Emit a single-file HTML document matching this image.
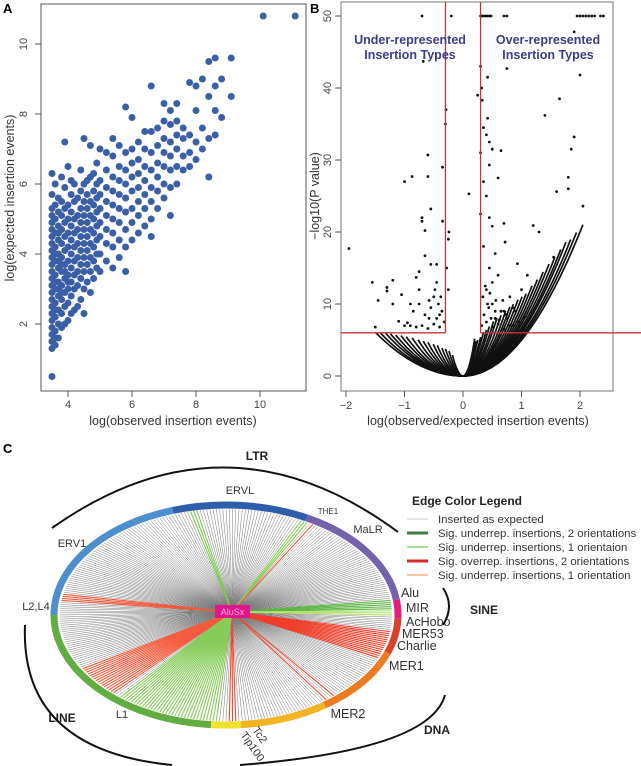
<!DOCTYPE html>
<html><head><meta charset="utf-8"><style>
body{margin:0;background:#fff}
svg{display:block;font-family:"Liberation Sans",sans-serif}
</style></head><body>
<svg id="fig" width="641" height="766" viewBox="0 0 641 766">
<text x="3" y="13" font-size="13" font-weight="bold">A</text>
<text x="310" y="13" font-size="13" font-weight="bold">B</text>
<text x="3" y="453" font-size="13" font-weight="bold">C</text>
<g id="pa"></g>
<g id="pb"></g>
<g id="pc"></g>
</svg>
<script>
// ---------- Panel A data ----------
const colObs = [3.5,3.6,3.7,3.8,3.9,4.0,4.1,4.2,4.3,4.4,4.5,4.6,4.7,4.8,4.9,5.0,5.2,5.4,5.6,5.8,6.0,6.2,6.4,6.6,6.8,7.0,7.2,7.4,7.6,7.8,8.0,8.2,8.4,8.6,8.8,9.1,10.1,11.1];
const colExp = [
[0.5,1.3,1.5,1.7,1.9,2.1,2.3,2.5,2.7,2.9,3.1,3.3,3.5,3.7,3.9,4.1,4.3,4.5,4.7,4.9,5.1,5.3,5.7,6.3],
[1.4,1.8,2.2,2.6,3.0,3.4,3.8,4.2,4.6,5.0,5.4,6.0,1.6,2.4,3.2,4.0],
[1.6,2.0,2.4,2.8,3.2,3.6,4.0,4.4,4.8,5.2,5.6,3.0,3.8,4.6],
[1.9,2.3,2.7,3.1,3.5,3.9,4.3,4.7,5.1,5.5,6.2,2.9,3.7],
[2.0,2.5,2.9,3.3,3.7,4.1,4.5,4.9,5.3,5.9,7.2,3.5],
[2.1,2.6,3.0,3.4,3.8,4.2,4.6,5.0,5.4,6.5,3.2],
[2.3,2.8,3.2,3.6,4.0,4.4,4.8,5.2,5.7,6.1],
[2.4,3.0,3.4,3.8,4.2,4.6,5.0,5.5,6.0],
[2.5,3.1,3.5,3.9,4.3,4.7,5.1,5.6],
[2.7,3.3,3.7,4.1,4.5,4.9,5.3,5.8,6.4],
[2.3,3.0,3.5,3.9,4.3,4.7,5.1,5.5,6.0,7.3],
[3.2,3.7,4.1,4.5,4.9,5.3,5.7,6.1],
[2.9,3.5,3.9,4.3,4.7,5.1,5.5,6.2,7.1],
[3.3,3.8,4.2,4.6,5.0,5.4,5.8,6.3],
[3.6,4.0,4.4,4.8,5.2,5.6,6.0,6.6],
[3.5,4.0,4.5,4.9,5.3,5.7,6.1,7.0],
[3.8,4.3,4.7,5.1,5.5,5.9,6.4,6.9],
[3.6,4.2,4.6,5.0,5.4,5.8,6.2,6.8,7.3],
[3.9,4.4,4.9,5.3,5.7,6.1,6.5,7.1],
[3.5,4.2,4.7,5.2,5.6,6.0,6.4,6.9,8.2],
[4.4,4.9,5.3,5.8,6.2,6.6,7.0,7.9],
[4.6,5.1,5.5,5.9,6.3,6.7,7.2],
[4.8,5.3,5.7,6.1,6.5,7.0,7.5],
[4.5,5.0,5.5,5.9,6.4,6.9,7.5,8.8],
[5.3,5.8,6.2,6.6,7.1,7.6],
[5.6,6.0,6.5,6.9,7.3,7.8,8.3],
[5.1,5.9,6.4,6.8,7.2,7.7,8.1],
[6.0,6.5,7.0,7.4,7.8,8.3],
[6.4,6.8,7.3,7.6],
[6.5,6.9,7.4,8.9],
[6.7,7.2,8.1,8.8],
[7.0,7.6,9.0],
[6.2,7.3,8.5,9.5],
[7.4,8.1,8.8,9.6],
[7.9,9.0],
[8.5,9.6],
[10.8],
[10.8]];
const aXTicks = [4,6,8,10];
const aYTicks = [2,4,6,8,10];

// ---------- Panel B data ----------
const arcRight = [5,5.3,5.6,6,6.3,6.7,7.2,7.7,8.3,9,9.8,10.8,12,13.5,15,17,20,24,28,34,40,50,60,80,100,130];
const arcRightEnd = [2.05,1.94,1.84,1.76,1.67,1.57,1.47,1.37,1.27,1.18,1.08,1.01,0.94,0.86,0.80,0.73,0.65,0.58,0.52,0.45,0.40,0.35,0.30,0.25,0.22,0.20];
const arcLeft = [2.7,3,3.4,3.8,4.3,5,5.8,7,8.5,10.5,13,17,22,30,42,60,90];
const arcLeftEnd = [1.50,1.41,1.32,1.24,1.15,1.06,0.97,0.87,0.77,0.68,0.60,0.51,0.44,0.36,0.30,0.24,0.18];
const bX = [-1.95,-1.55,-1.5,-1.45,-1.3,-1.3,-1.2,-1.2,-1.05,-1,-1,-0.9,-0.9,-0.87,-0.8,-0.75,-0.75,-0.7,-0.7,-0.68,-0.65,-0.65,-0.6,-0.6,-0.58,-0.55,-0.55,-0.5,-0.45,-0.45,-0.4,-0.35,-0.35,-0.3,-0.29,-0.28,-0.25,-0.24,-0.25,-0.7,-0.2,
0.1,0.25,0.3,0.32,0.33,0.35,0.4,0.42,0.42,0.45,0.45,0.5,0.3,0.35,0.4,0.45,0.5,0.55,0.35,0.3,0.6,0.65,0.7,0.72,0.75,0.93,1.2,1.3,1.4,1.65,1.85,1.9,1.9,2.0,2.05,1.6,1.8,1.8,1.55,1.0,1.1,0.8,0.9,0.6,0.5,0.55,0.7,0.4,0.45,0.85,
0.3,0.33,0.36,0.39,0.42,0.45,0.48,0.7,0.75,1.95,2.0,2.05,2.1,2.15,2.2,2.25,2.35,2.4,
0.32,0.36,0.4,0.44,0.48,0.52,0.56,0.6,0.65,0.7,0.75,0.8,0.34,0.38,0.42,0.46,0.5,0.55,0.62,0.68,0.74,0.85,0.95,1.05,
-0.32,-0.36,-0.4,-0.45,-0.5,-0.55,-0.6,-0.65,-0.7,-0.8,-0.85,-0.95,-0.38,-0.42,-0.48,-0.58,-0.75,-1.1];
const bY = [17.7,13,6.8,10.5,12.3,11.8,13.3,10,11.3,27,7,7,10,27.7,13.7,12,14.5,21.5,22,43.7,16.7,20.2,30.7,27.7,10.5,23.2,15.5,11,15.5,13,8.5,21.5,29,35,37,15,19,20,12,50,50,
25.3,39,43,40,38.3,34.5,33.5,35.8,41.5,32.5,29.3,31.5,31,27,25,22,20.8,17,18,22.5,27.5,31.3,21.2,18.6,42.7,15.6,20.9,20,36.2,38.5,31.5,33.2,47.8,41.8,23.6,25.6,27.6,26,16.5,12,14,11,9,14,10,8,9,12,15,7,
50,50,50,50,50,50,50,50,50,50,50,50,50,50,50,50,50,50,
7,8.5,7.5,9.5,8,6.8,10.5,7.2,9,6.5,8,7,11,12.5,10,11.5,13,9,7.8,10.5,8.5,9.5,7.5,8.2,
7.5,9,6.8,8,7.2,9.5,6.6,8.5,7,6.8,9,7.4,11,10,12,8,10,7.6];
const bXTicks = [-2,-1,0,1,2];
const bYTicks = [0,10,20,30,40,50];
const bCutX = [-0.3,0.3];
const bCutY = 6;

// ---------- Panel C data ----------
const famNames = ['ERV1','ERVL','MaLR','Alu','DNA-small','MER1','MER2','Tc2','L1'];
const famStart = [180,108,62,8,-2,-20,-55,-85,-95];
const famEnd = [108,62,8,-2,-20,-55,-85,-95,-180];
const famColor = ['#4d8fcc','#2f5eab','#7562ad','#e0207a','#d9412a','#ee7a22','#f2b324','#f0e030','#62ad42'];
const fanStart = [168,171.5,100,58,60.5,0,3,-8,-49,-52,-86,-93,-132];
const fanEnd = [173,172.5,103,58.8,64,2.5,8,-24,-50.5,-53,-89,-130,-150];
const fanColor = ['#f25a3a','#6cc04a','#7acb50','#f25a3a','#8ccc55','#b5e070','#5fb548','#ef3e2a','#ef4a30','#ef4a30','#ef4a30','#86cc5a','#f45a3c'];
const legendLabels = ['Inserted as expected','Sig. underrep. insertions, 2 orientations','Sig. underrep. insertions, 1 orientaion','Sig. overrep. insertions, 2 orientations','Sig. underrep. insertions, 1 orientation'];
const legendColors = ['#cfcfcf','#3f7a45','#7cc060','#d8282a','#f4a070'];
const legendWidths = [1,3,1.2,3,1.2];

const NS='http://www.w3.org/2000/svg';
function mk(tag,attrs,parent,txt){const e=document.createElementNS(NS,tag);for(const k in attrs)e.setAttribute(k,attrs[k]);if(txt!==undefined)e.textContent=txt;parent.appendChild(e);return e;}

// ---- Panel A ----
(function(){
const g=document.getElementById('pa');
const L=41,R=306,T=4,B=391;
const sx=v=>68+32*(v-4), sy=v=>394-35*v;
const box=mk('rect',{x:L,y:T,width:R-L,height:B-T,fill:'none',stroke:'#555','stroke-width':1},g);

aXTicks.forEach(t=>{const x=sx(t);
 const l=mk('line',{x1:x,y1:B,x2:x,y2:B+6,stroke:'#555'},g);
 const tx=mk('text',{x:x,y:B+17,'font-size':11,fill:'#444','text-anchor':'middle'},g,String(t));});
aYTicks.forEach(t=>{const y=sy(t);
 const l=mk('line',{x1:L-6,y1:y,x2:L,y2:y,stroke:'#555'},g);
 const tx=mk('text',{x:27,y:y,'font-size':11,fill:'#444','text-anchor':'middle',transform:`rotate(-90 27 ${y})`},g,String(t));});
const xt=mk('text',{x:173,y:425,'font-size':12.5,fill:'#333','text-anchor':'middle'},g,'log(observed insertion events)');
const yt=mk('text',{x:14,y:198,'font-size':12.5,fill:'#333','text-anchor':'middle',transform:'rotate(-90 14 198)'},g,'log(expected insertion events)');
colObs.forEach((xv,i)=>colExp[i].forEach(yv=>{
 const c=mk('circle',{cx:sx(xv),cy:sy(yv),r:3.5,fill:'#3a5fa6'},g);
 
 }));
})();

// ---- Panel B ----
(function(){
const g=document.getElementById('pb');
const L=341,R=613,T=2,B=391;
const sx=v=>463+58.5*v, sy=v=>376-7.2*v;
const box=mk('rect',{x:L,y:T,width:R-L,height:B-T,fill:'none',stroke:'#777','stroke-width':1},g);

bXTicks.forEach(t=>{const x=sx(t);
 const l=mk('line',{x1:x,y1:B,x2:x,y2:B+6,stroke:'#555'},g);
 const tx=mk('text',{x:x,y:B+18,'font-size':11,fill:'#444','text-anchor':'middle'},g,t<0?'\u2212'+(-t):String(t));});
bYTicks.forEach(t=>{const y=sy(t);
 const l=mk('line',{x1:L-6,y1:y,x2:L,y2:y,stroke:'#555'},g);
 const tx=mk('text',{x:331,y:y,'font-size':11,fill:'#444','text-anchor':'middle',transform:`rotate(-90 331 ${y})`},g,String(t));});
const xt=mk('text',{x:478,y:425,'font-size':12.5,fill:'#333','text-anchor':'middle'},g,'log(observed/expected insertion events)');
const yt=mk('text',{x:319,y:196,'font-size':12.5,fill:'#333','text-anchor':'middle',transform:'rotate(-90 319 196)'},g,'\u2212log10(P value)');
function arc(c,end,side){
 let d='';
 for(let k=0;k<=60;k++){const xv=side*end*k/60;const yv=c*xv*xv;d+=(k?'L':'M')+sx(xv).toFixed(1)+','+sy(yv).toFixed(1);}
 const p=mk('path',{d:d,fill:'none',stroke:'#111','stroke-width':1.7},g);
 
 
}
arcRight.forEach((c,i)=>arc(c,arcRightEnd[i],1));
arcLeft.forEach((c,i)=>arc(c,arcLeftEnd[i],-1));
bX.forEach((xv,i)=>{
 const p=mk('circle',{cx:sx(xv),cy:sy(bY[i]),r:1.4,fill:'#111'},g);
 
 });
bCutX.forEach(v=>{const l=mk('line',{x1:sx(v),y1:T,x2:sx(v),y2:sy(bCutY),stroke:'#c8333a','stroke-width':1.3},g);
 });
const h1=mk('line',{x1:L,y1:sy(bCutY),x2:sx(bCutX[0]),y2:sy(bCutY),stroke:'#c8333a','stroke-width':1.3},g);
const h2=mk('line',{x1:sx(bCutX[1]),y1:sy(bCutY),x2:R+28,y2:sy(bCutY),stroke:'#c8333a','stroke-width':1.3},g);
[['Under-represented',410,44],['Insertion Types',410,59],['Over-represented',548,44],['Insertion Types',548,59]].forEach((a,i)=>{
 const t=mk('text',{x:a[1],y:a[2],'font-size':12.5,'font-weight':'bold',fill:'#3c3c8c','text-anchor':'middle'},g,a[0]);
 });
})();

// ---- Panel C ----
(function(){
const g=document.getElementById('pc');
const cx=226,cy=615,rx=172,ry=110,hx=232,hy=612;
const pt=(a,s)=>[cx+rx*s*Math.cos(a*Math.PI/180),cy-ry*s*Math.sin(a*Math.PI/180)];
function colorAt(a){for(let i=0;i<fanStart.length;i++){const lo=Math.min(fanStart[i],fanEnd[i]),hi=Math.max(fanStart[i],fanEnd[i]);if(a>=lo&&a<=hi)return fanColor[i];}return null;}
const N=320;
const colored=[];
for(let k=0;k<N;k++){const a=180-360*k/N;const p=pt(a,0.965);const c=colorAt(a);
 if(c){colored.push([p,c]);continue;}
 const l=mk('line',{x1:hx,y1:hy,x2:p[0],y2:p[1],stroke:'#7a7a7a','stroke-width':0.5},g);
 
 }
colored.forEach(([p,c])=>{const l=mk('line',{x1:hx,y1:hy,x2:p[0],y2:p[1],stroke:c,'stroke-width':1.1},g);
 
 });
famNames.forEach((n,i)=>{
 const a0=famStart[i],a1=famEnd[i];const p0=pt(a0,1),p1=pt(a1,1);
 const large=Math.abs(a0-a1)>180?1:0;
 const s=mk('path',{d:`M${p0[0]},${p0[1]} A${rx},${ry} 0 ${large} 1 ${p1[0]},${p1[1]}`,fill:'none',stroke:famColor[i],'stroke-width':7},g);
 
 });
const hub=mk('rect',{x:215,y:605,width:35,height:13,fill:'#e0168a'},g);
const ht=mk('text',{x:232.5,y:615,'font-size':9,fill:'#f7a8d8','text-anchor':'middle'},g,'AluSx');
const labs=[['ERVL',240,494,11,'middle'],['THE1',328,514,8,'middle'],['MaLR',368,533,11,'middle'],['ERV1',72,547,11,'middle'],['L2,L4',36,610,11,'middle'],['Alu',401,597,12.5,'start'],['MIR',406,612,12.5,'start'],['AcHobo',406,626,12.5,'start'],['MER53',402,638,12.5,'start'],['Charlie',397,650,12.5,'start'],['MER1',389,670,12.5,'start'],['L1',122,718,11,'middle'],['MER2',348,718,12.5,'middle']];
labs.forEach(a=>{const t=mk('text',{x:a[1],y:a[2],'font-size':a[3],fill:'#333','text-anchor':a[4]},g,a[0]);
 });
const tc=mk('text',{x:252,y:730,'font-size':11,fill:'#333',transform:'rotate(55 252 730)'},g,'Tc2');
const tp=mk('text',{x:240,y:735,'font-size':11,fill:'#333',transform:'rotate(55 240 735)'},g,'Tip100');
const cls=[['LTR',257,460],['SINE',484,614],['LINE',62,722],['DNA',437,734]];
cls.forEach(a=>{const t=mk('text',{x:a[1],y:a[2],'font-size':12,'font-weight':'bold',fill:'#222','text-anchor':'middle'},g,a[0]);
 });
const arcs=['M52,528 Q226,405 398,532','M25,625 Q20,750 172,765','M240,765 Q430,750 445,695','M443,588 Q455,606 443,625'];
arcs.forEach((d,i)=>{const p=mk('path',{d:d,fill:'none',stroke:'#111','stroke-width':2},g);
 });
const lt=mk('text',{x:412,y:505,'font-size':12,'font-weight':'bold',fill:'#222'},g,'Edge Color Legend');
legendLabels.forEach((s,i)=>{const y=523+14*i;
 const l=mk('line',{x1:407,y1:y-4,x2:428,y2:y-4,stroke:legendColors[i],'stroke-width':legendWidths[i]},g);
 
 const t=mk('text',{x:438,y:y,'font-size':11.4,fill:'#333'},g,s);
 });
})();
</script>
</body></html>
